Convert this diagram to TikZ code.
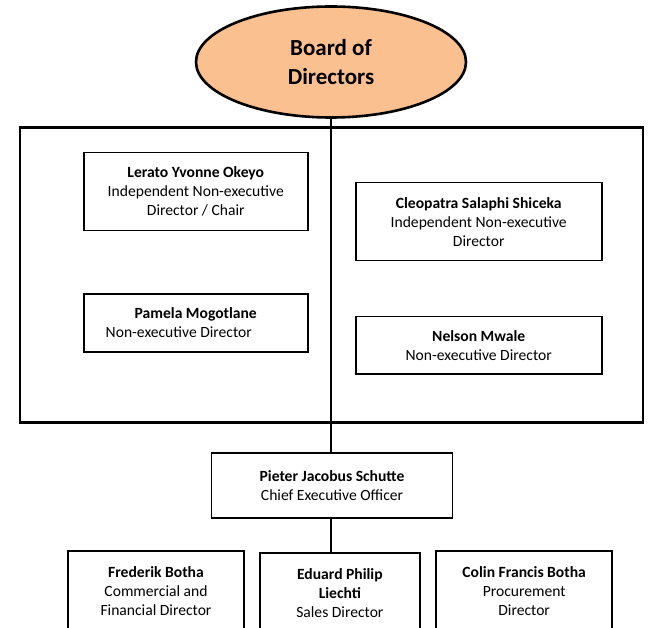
\documentclass[tikz,border=0pt]{standalone}
\usepackage{fontspec}
\setmainfont{Carlito}
\usetikzlibrary{shapes.geometric}
\definecolor{boardfill}{RGB}{250,192,144}
\begin{document}
\begin{tikzpicture}[x=1pt,y=-1pt]
\useasboundingbox (0,0) rectangle (648,628);
\clip (0,0) rectangle (648,628);
\tikzstyle{member} = [rectangle, draw=black, line width=1.6pt, inner sep=0pt, align=center, font=\fontsize{15.6}{19}\selectfont]
\tikzstyle{link} = [line width=1.3pt]
\node (board) [ellipse, draw=black, fill=boardfill, line width=2.6pt, minimum width=270pt, minimum height=111pt, align=center, font=\fontsize{23}{28.5}\selectfont\bfseries] at (331,62) {Board of\\Directors};
\node (frame) [rectangle, draw=black, line width=2.2pt, minimum width=623pt, minimum height=295pt] at (331.4,275) {};
\node (lerato) [member, minimum width=224pt, minimum height=78pt] at (195.75,191.7) {\textbf{Lerato Yvonne Okeyo}\\Independent Non-executive\\Director / Chair};
\node (pamela) [member, minimum width=224pt, minimum height=58pt, below of=lerato, node distance=131.3pt] {\textbf{Pamela Mogotlane}\\Non-executive Director\hspace*{34pt}};
\node (cleo) [member, minimum width=246pt, minimum height=78pt] at (478.7,221.7) {\textbf{Cleopatra Salaphi Shiceka}\\Independent Non-executive\\Director};
\node (nelson) [member, minimum width=246pt, minimum height=57.5pt, below of=cleo, node distance=123.6pt] {\textbf{Nelson Mwale}\\Non-executive Director};
\node (ceo) [member, minimum width=241pt, minimum height=65pt] at (332,485.3) {\textbf{Pieter Jacobus Schutte}\\Chief Executive Officer};
\node (frederik) [member, minimum width=176pt, minimum height=80pt] at (156,590.7) {\textbf{Frederik Botha}\\Commercial and\\Financial Director};
\node (eduard) [member, minimum width=160pt, minimum height=80pt] at (339.85,593) {\textbf{Eduard Philip}\\\textbf{Liechti}\\Sales Director};
\node (colin) [member, minimum width=176pt, minimum height=80pt] at (524.15,590.7) {\textbf{Colin Francis Botha}\\Procurement\\Director};
\draw [link] (board.south) -- (board.south |- ceo.north);
\draw [link] (ceo.south -| board.south) -- (eduard.north -| board.south);
\end{tikzpicture}
\end{document}
